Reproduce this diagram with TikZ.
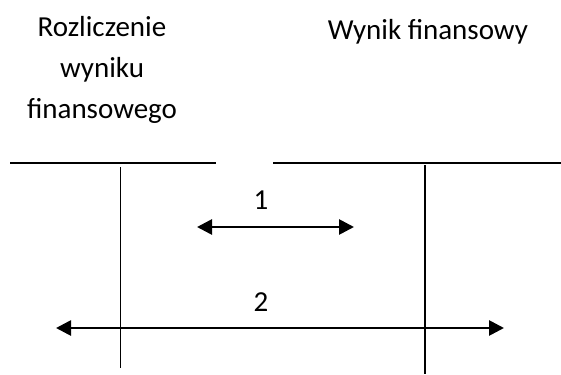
\documentclass[tikz,border=0pt]{standalone}
\usepackage{fontspec}
\setmainfont{Carlito}
\usetikzlibrary{arrows.meta}
\begin{document}
\begin{tikzpicture}[x=1pt,y=-1pt,
  acct/.style={line width=1.8pt},
  flow/.style={line width=2.7pt,{Triangle[length=15pt,width=15pt]}-{Triangle[length=15pt,width=15pt]}},
  title/.style={font=\fontsize{29}{41}\selectfont,align=center,inner sep=0pt},
  num/.style={font=\fontsize{29}{34}\selectfont,inner sep=0pt}]
\useasboundingbox (0,0) rectangle (561,374);
% titles
\node[title,anchor=north] (t1) at (102,16) {Rozliczenie\\wyniku\\finansowego};
\node[title,anchor=north] (t2) at (428,19) {Wynik finansowy};
% left account
\coordinate (l1) at (10,163);
\coordinate (l2) at (216,163);
\coordinate (lv1) at (120.5,167);
\coordinate (lv2) at (120.5,368);
\draw[acct] (l1) -- (l2);
\draw[acct] (lv1) -- (lv2);
% right account
\coordinate (r1) at (273,163);
\coordinate (r2) at (561,163);
\coordinate (rv1) at (425,165);
\coordinate (rv2) at (425,374);
\draw[acct] (r1) -- (r2);
\draw[acct] (rv1) -- (rv2);
% arrows
\coordinate (a1) at (197,227);
\coordinate (b1) at (354,227);
\draw[flow] (a1) -- (b1);
\node[num] (n1) at (261,200) {1};
\coordinate (a2) at (56,328);
\coordinate (b2) at (504,328);
\draw[flow] (a2) -- (b2);
\node[num] (n2) at (261,302) {2};
\end{tikzpicture}
\end{document}
